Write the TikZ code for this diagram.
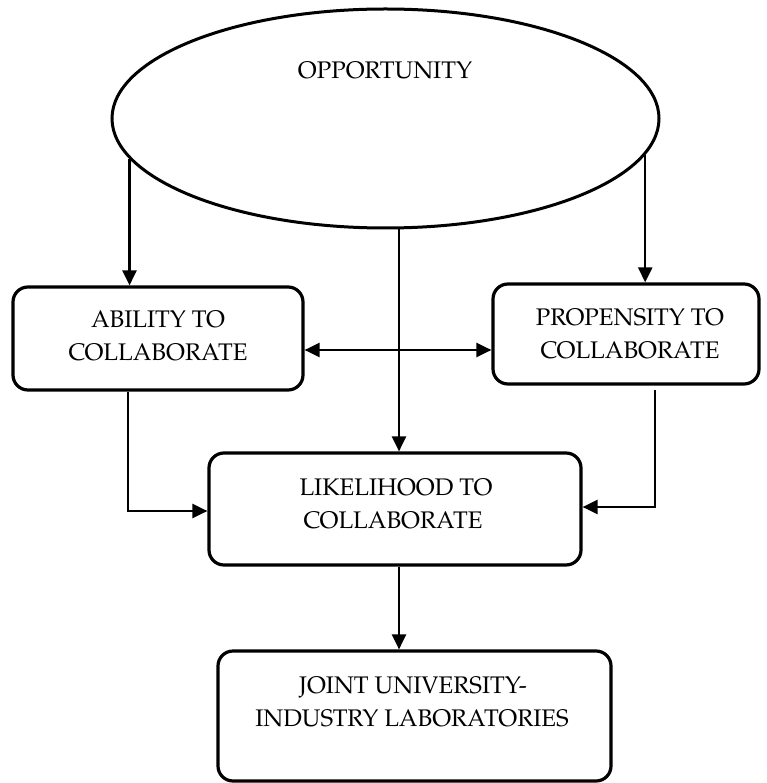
\documentclass[tikz,border=0pt]{standalone}
\usepackage{fontspec}
\setmainfont{TeX Gyre Pagella}
\usetikzlibrary{shapes.geometric,arrows.meta,calc}
\begin{document}
\begin{tikzpicture}[x=1pt,y=-1pt,
  box/.style={draw,line width=3.2pt,rounded corners=15pt,inner sep=0pt},
  oval/.style={draw,ellipse,line width=3pt,inner sep=0pt},
  conn/.style={line width=2.3pt,-{Triangle[length=15pt,width=14pt]}},
  conntwo/.style={line width=2.3pt,{Triangle[length=15pt,width=14pt]}-{Triangle[length=15pt,width=14pt]}},
  lbl/.style={anchor=base,inner sep=0pt,font=\fontsize{24}{33}\selectfont}]
\useasboundingbox (0,0) rectangle (766,783);
% shapes
\node[oval,minimum width=547pt,minimum height=219pt] (opp) at (385.5,118.5) {};
\node[box,minimum width=290pt,minimum height=103pt] (ability) at (158,338.5) {};
\node[box,minimum width=266pt,minimum height=100pt] (propensity) at (626,334) {};
\node[box,minimum width=372pt,minimum height=112pt] (likelihood) at (395,509) {};
\node[box,minimum width=393pt,minimum height=130pt] (joint) at (414.5,716) {};
% labels
\node[lbl] (oppT) at (385,78.5) {OPPORTUNITY};
\node[lbl] (abT1) at (158,327) {ABILITY TO};
\node[lbl] (abT2) at (158,360) {COLLABORATE};
\node[lbl] (prT1) at (630,325) {PROPENSITY TO};
\node[lbl] (prT2) at (630,358) {COLLABORATE};
\node[lbl] (liT1) at (396,495) {LIKELIHOOD TO};
\node[lbl] (liT2) at (393,528) {COLLABORATE};
\node[lbl] (joT1) at (413,693) {JOINT UNIVERSITY-};
\node[lbl] (joT2) at (412,726) {INDUSTRY LABORATORIES};
% connectors
\draw[conn] (opp.189) -- (opp.189 |- ability.north);
\draw[conn] (opp.352) -- (opp.352 |- propensity.north);
\draw[conn] ([xshift=13.5pt]opp.south) -- ([xshift=4pt]likelihood.north);
\draw[conntwo] ([yshift=-11.5pt]ability.east) -- ([yshift=-11.5pt]ability.east -| propensity.west);
\draw[conn] ([xshift=-30pt]ability.south) |- ([yshift=-2pt]likelihood.west);
\draw[conn] ([xshift=29pt,yshift=-4pt]propensity.south) |- ([yshift=2pt]likelihood.east);
\draw[conn] ([xshift=4pt]likelihood.south) -- ([xshift=4pt]likelihood.south |- joint.north);
\end{tikzpicture}
\end{document}
